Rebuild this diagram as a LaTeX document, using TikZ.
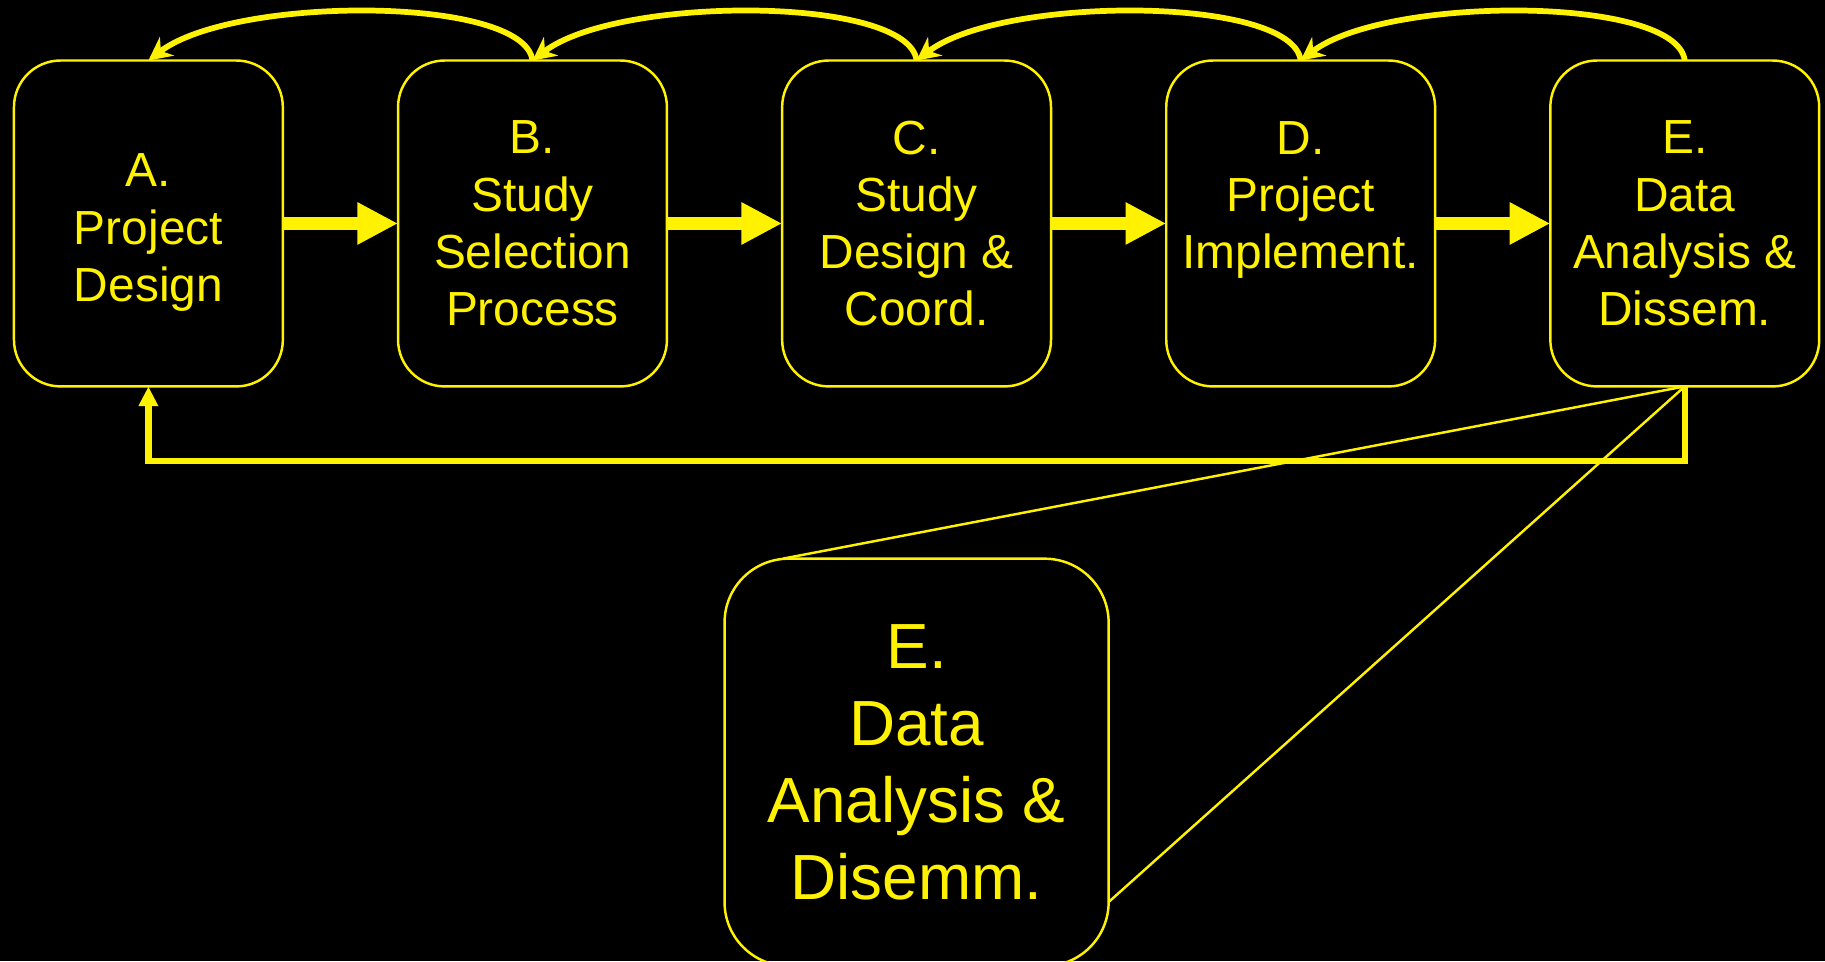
\documentclass[tikz,border=0pt]{standalone}
\usepackage{fontspec}
\setmainfont{Liberation Sans}
\usetikzlibrary{positioning,arrows.meta}

\tikzset{
  stage/.style={draw=yellow, line width=0.6pt, rounded corners=0.4cm,
    minimum width=2.31cm, minimum height=2.8cm, inner sep=0pt, outer sep=0pt,
    align=center, text=yellow, font=\fontsize{11.7}{14}\selectfont},
  bigstage/.style={draw=yellow, line width=0.6pt, rounded corners=0.55cm,
    minimum width=3.3cm, minimum height=3.5cm, inner sep=0pt, outer sep=0pt,
    align=center, text=yellow, font=\fontsize{15.6}{18.8}\selectfont},
  flow/.style={yellow, line width=3pt, -{Triangle[length=0.35cm,width=0.34cm]}},
  backarc/.style={yellow, line width=1.4pt, -{Stealth[length=0.2cm,width=0.2cm]}},
  loopback/.style={yellow, line width=1.6pt, -{Triangle[length=0.17cm,width=0.16cm]}},
  zoomline/.style={yellow, line width=0.6pt}
}

\begin{document}
\begin{tikzpicture}

    % Background
    \fill[black] (0,0) rectangle (15.68,-8.26);
    \useasboundingbox (0,0) rectangle (15.68,-8.26);

    % Stages of the project
    \node[stage] (a) at (1.275,-1.92) {\rule{0pt}{12.5pt}A.\\Project\\Design};
    \node[stage, right=0.99cm of a] (b) {B.\\Study\\Selection\\Process};
    \node[stage, right=0.99cm of b] (c) {C.\\Study\\Design \&\\Coord.};
    \node[stage, right=0.99cm of c] (d) {D.\\Project\\Implement.\\\mbox{}};
    \node[stage, right=0.99cm of d] (e) {E.\\Data\\Analysis \&\\Dissem.};

    % Close-up of stage E
    \node[bigstage, below=1.48cm of c] (ebig) {E.\\Data\\Analysis \&\\Disemm.};

    % Forward flow
    \foreach \from/\to in {a/b, b/c, c/d, d/e}
        \draw[flow] (\from.east) -- (\to.west);

    % Back arcs over the top
    \foreach \from/\to in {b/a, c/b, d/c, e/d}
        \draw[backarc] (\from.north) .. controls +(-0.07,0.56) and +(0.73,0.56) .. (\to.north);

    % Loop from E back to A
    \draw[loopback] (e.south) -- ++(0,-0.64) -| (a.south);

    % Zoom lines to the close-up
    \draw[zoomline] (e.south) -- ([xshift=0.5cm]ebig.north west);
    \draw[zoomline] (e.south) -- ([yshift=0.55cm]ebig.south east);

\end{tikzpicture}
\end{document}
